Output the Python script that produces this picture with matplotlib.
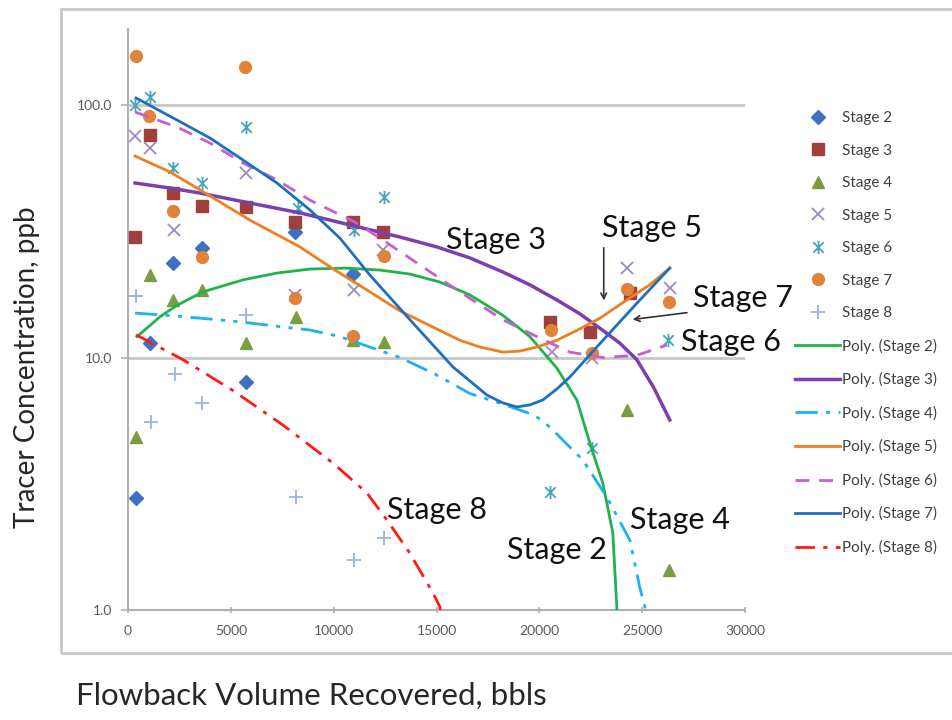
import matplotlib.pyplot as plt
from matplotlib.path import Path
from matplotlib.patches import Rectangle

plt.rcParams['font.family'] = ['Lato', 'DejaVu Sans']

# scatter data, bbls vs ppb
s2_x = [400, 1070, 2200, 3600, 5740, 8120, 10950]
s2_y = [2.78, 11.4, 23.7, 27.1, 8.0, 31.4, 21.4]
s3_x = [340, 1070, 2190, 3600, 5740, 8120, 10940, 12400, 20500, 22450, 24400]
s3_y = [30.0, 76.1, 44.8, 39.8, 39.5, 34.4, 34.4, 31.4, 13.8, 12.6, 18.0]
s4_x = [400, 1070, 2190, 3600, 5740, 8170, 10940, 12450, 24250, 26290]
s4_y = [4.84, 21.2, 16.9, 18.5, 11.4, 14.5, 11.7, 11.5, 6.2, 1.44]
s5_x = [340, 1070, 2240, 5740, 8120, 10970, 12400, 20600, 22550, 24250, 26340]
s5_y = [75.4, 67.6, 32.0, 53.8, 17.7, 18.5, 26.7, 10.5, 10.0, 22.6, 18.9]
s6_x = [340, 1070, 2190, 3600, 5740, 8260, 10970, 12450, 20500, 22550, 26250]
s6_y = [100, 107.6, 56.3, 49.1, 81.8, 39.1, 32.0, 43.2, 2.93, 4.38, 11.7]
s7_x = [390, 1020, 2190, 3600, 5690, 8120, 10940, 12450, 20550, 22550, 24250, 26300]
s7_y = [156, 90.4, 38.0, 25.0, 141, 17.2, 12.2, 25.2, 12.8, 10.4, 18.7, 16.6]
s8_x = [390, 1120, 2280, 3600, 5740, 8170, 10970, 12450]
s8_y = [17.5, 5.55, 8.6, 6.6, 14.7, 2.80, 1.58, 1.93]

# trendlines (Excel poly fits)
p2_x = [437, 1069, 1555, 2381, 3645, 5590, 7240, 8845, 10546, 12247, 13705, 15163,
        16621, 18225, 19537, 20850, 21821, 22453, 23085, 23571, 23765, 23863]
p2_y = [12.1, 13.4, 14.5, 16.1, 18.2, 20.3, 21.6, 22.4, 22.6, 22.2, 21.4, 19.9,
        17.7, 14.7, 12.1, 9.08, 6.79, 4.59, 3.18, 2.02, 1.03, 0.76]
p3_x = [340, 2041, 3500, 5929, 8360, 10789, 13220, 15020, 16621, 18230, 19537, 20850,
        21967, 23090, 23911, 24740, 25560, 26340]
p3_y = [49.1, 46.9, 44.8, 40.9, 37.4, 33.5, 30.0, 27.4, 24.8, 21.8, 19.4, 16.9,
        14.9, 12.8, 11.4, 9.8, 7.6, 5.66]
p4_x = [340, 2284, 3985, 5589, 7241, 8845, 10303, 11761, 13219, 14920, 16620, 18078,
        19780, 20510, 22110, 23280, 24400, 24880, 25130, 25250]
p4_y = [15.0, 14.6, 14.2, 13.8, 13.3, 12.85, 12.1, 11.0, 10.0, 8.6, 7.2, 6.6,
        5.9, 5.3, 3.93, 2.80, 1.89, 1.23, 1.03, 0.8]
p5_x = [340, 2041, 3500, 5929, 8360, 10060, 11760, 13219, 14820, 16135, 17110, 18230,
        19051, 19880, 20849, 21820, 22939, 24250, 25369, 26340]
p5_y = [62.8, 54.3, 46.1, 35.0, 27.4, 22.2, 18.2, 15.3, 13.2, 11.7, 11.0, 10.5,
        10.6, 11.0, 11.7, 12.8, 14.3, 16.9, 19.4, 22.6]
p6_x = [340, 2380, 3985, 5590, 7240, 8845, 11030, 12390, 15790, 18225, 19880, 21480,
        23090, 24740, 26200]
p6_y = [93.8, 81.8, 70.7, 58.9, 50.5, 42.0, 34.4, 29.2, 19.0, 14.1, 12.1, 10.5,
        10.0, 10.2, 11.2]
p7_x = [390, 2380, 3985, 5440, 7240, 8845, 10303, 11760, 13850, 15800, 17450, 18225,
        18905, 19537, 20170, 20849, 21480, 23090, 24740, 26340]
p7_y = [106.6, 87.2, 74.0, 61.7, 49.1, 38.4, 29.7, 21.2, 13.7, 9.17, 7.1, 6.61,
        6.37, 6.49, 6.79, 7.5, 8.37, 11.7, 16.4, 22.6]
p8_x = [390, 2670, 5100, 7530, 9960, 11610, 12590, 13700, 14820, 15160, 15300]
p8_y = [12.3, 9.8, 7.4, 5.4, 3.82, 2.91, 2.27, 1.68, 1.17, 1.03, 0.8]

stage_labels = ['Stage 2', 'Stage 3', 'Stage 4', 'Stage 5', 'Stage 6', 'Stage 7', 'Stage 8']

# asterisk marker like Excel's
ast = Path([(0, -1), (0, 1), (-0.8, -0.8), (0.8, 0.8), (-0.8, 0.8), (0.8, -0.8)],
           [Path.MOVETO, Path.LINETO, Path.MOVETO, Path.LINETO, Path.MOVETO, Path.LINETO])

fig = plt.figure(figsize=(9.52, 7.2), dpi=100)
fig.patches.append(Rectangle((0.064, 0.0931), 0.96, 0.894, transform=fig.transFigure,
                             fill=False, edgecolor='#c8c8c8', linewidth=2, zorder=0))
ax = fig.add_axes([0.1345, 0.1528, 0.6481, 0.8069])

ms = 8.5
ax.plot(s2_x, s2_y, 'D', color='#4070BE', ms=ms - 1, label=stage_labels[0], zorder=3)
ax.plot(s3_x, s3_y, 's', color='#A0403C', ms=ms, label=stage_labels[1], zorder=3)
ax.plot(s4_x, s4_y, '^', color='#7D9C3F', ms=ms, label=stage_labels[2], zorder=3)
ax.plot(s5_x, s5_y, 'x', color='#9C88BE', ms=ms, mew=1.3, label=stage_labels[3], zorder=3)
ax.plot(s6_x, s6_y, ls='none', marker=ast, color='#45A5BC', ms=ms + 1, mew=1.3,
        label=stage_labels[4], zorder=3)
ax.plot(s7_x, s7_y, 'o', color='#E0823A', ms=ms, label=stage_labels[5], zorder=3)
ax.plot(s8_x, s8_y, '+', color='#9DB3DA', ms=ms + 1, mew=1.3, label=stage_labels[6], zorder=3)

lw = 2.0
ax.plot(p2_x, p2_y, color='#22B24C', lw=lw, label='Poly. (Stage 2)', zorder=4)
ax.plot(p3_x, p3_y, color='#7B3FB0', lw=lw + 0.5, label='Poly. (Stage 3)', zorder=4)
ax.plot(p4_x, p4_y, color='#1AB2F0', lw=lw, dashes=(8, 3, 1.5, 3, 1.5, 3),
        label='Poly. (Stage 4)', zorder=4)
ax.plot(p5_x, p5_y, color='#EE7F22', lw=lw, label='Poly. (Stage 5)', zorder=4)
ax.plot(p6_x, p6_y, color='#C85FD0', lw=lw, dashes=(5, 3.5), label='Poly. (Stage 6)', zorder=4)
ax.plot(p7_x, p7_y, color='#1E6FC0', lw=lw, label='Poly. (Stage 7)', zorder=4)
ax.plot(p8_x, p8_y, color='#FF1A1A', lw=lw, dashes=(7, 3, 1.5, 3),
        label='Poly. (Stage 8)', zorder=4)

ax.set_yscale('log')
ax.set_ylim(1, 200)
ax.set_xlim(0, 30000)
ax.set_xticks(range(0, 30001, 5000))
ax.set_yticks([1, 10, 100])
ax.set_yticklabels(['1.0', '10.0', '100.0'])
ax.minorticks_off()
ax.yaxis.grid(True, color='#c8c8c8', lw=2)
ax.set_axisbelow(True)
for side in ['top', 'right']:
    ax.spines[side].set_visible(False)
for side in ['left', 'bottom']:
    ax.spines[side].set_color('#b0b0b0')
    ax.spines[side].set_linewidth(1.5)
ax.tick_params(colors='#b0b0b0', labelcolor='#595959', labelsize=10, length=5, width=1.2)
ax.tick_params(axis='x', direction='inout', pad=8)
ax.tick_params(axis='y', direction='out', pad=6.5)

fig.text(0.028, 0.49, 'Tracer Concentration, ppb', rotation=90, fontsize=20,
         color='#262626', ha='center', va='center')
fig.text(0.080, 0.034, 'Flowback Volume Recovered, bbls', fontsize=22.5,
         color='#262626', ha='left', va='center')

tk = dict(fontsize=22, color='#111111', ha='center', va='center', zorder=6)
ax.text(17880, 29.2, 'Stage 3', **tk)
ax.text(25470, 32.6, 'Stage 5', **tk)
ax.text(29890, 17.2, 'Stage 7', **tk)
ax.text(29300, 11.5, 'Stage 6', **tk)
ax.text(15020, 2.49, 'Stage 8', **tk)
ax.text(26830, 2.27, 'Stage 4', **tk)
ax.text(20850, 1.73, 'Stage 2', **tk)

arr = dict(arrowstyle='->', color='#333333', lw=1.2)
ax.annotate('', xy=(23130, 16.4), xytext=(23130, 27.9), arrowprops=arr)
ax.annotate('', xy=(24400, 14.1), xytext=(27310, 15.1), arrowprops=arr)

ax.legend(loc='upper left', bbox_to_anchor=(0.829, 0.854), bbox_transform=fig.transFigure,
          frameon=False, fontsize=11, handlelength=2.95, handletextpad=0.12,
          labelspacing=1.21, labelcolor='#404040', borderaxespad=0)

fig.savefig('out.png', dpi=100)
